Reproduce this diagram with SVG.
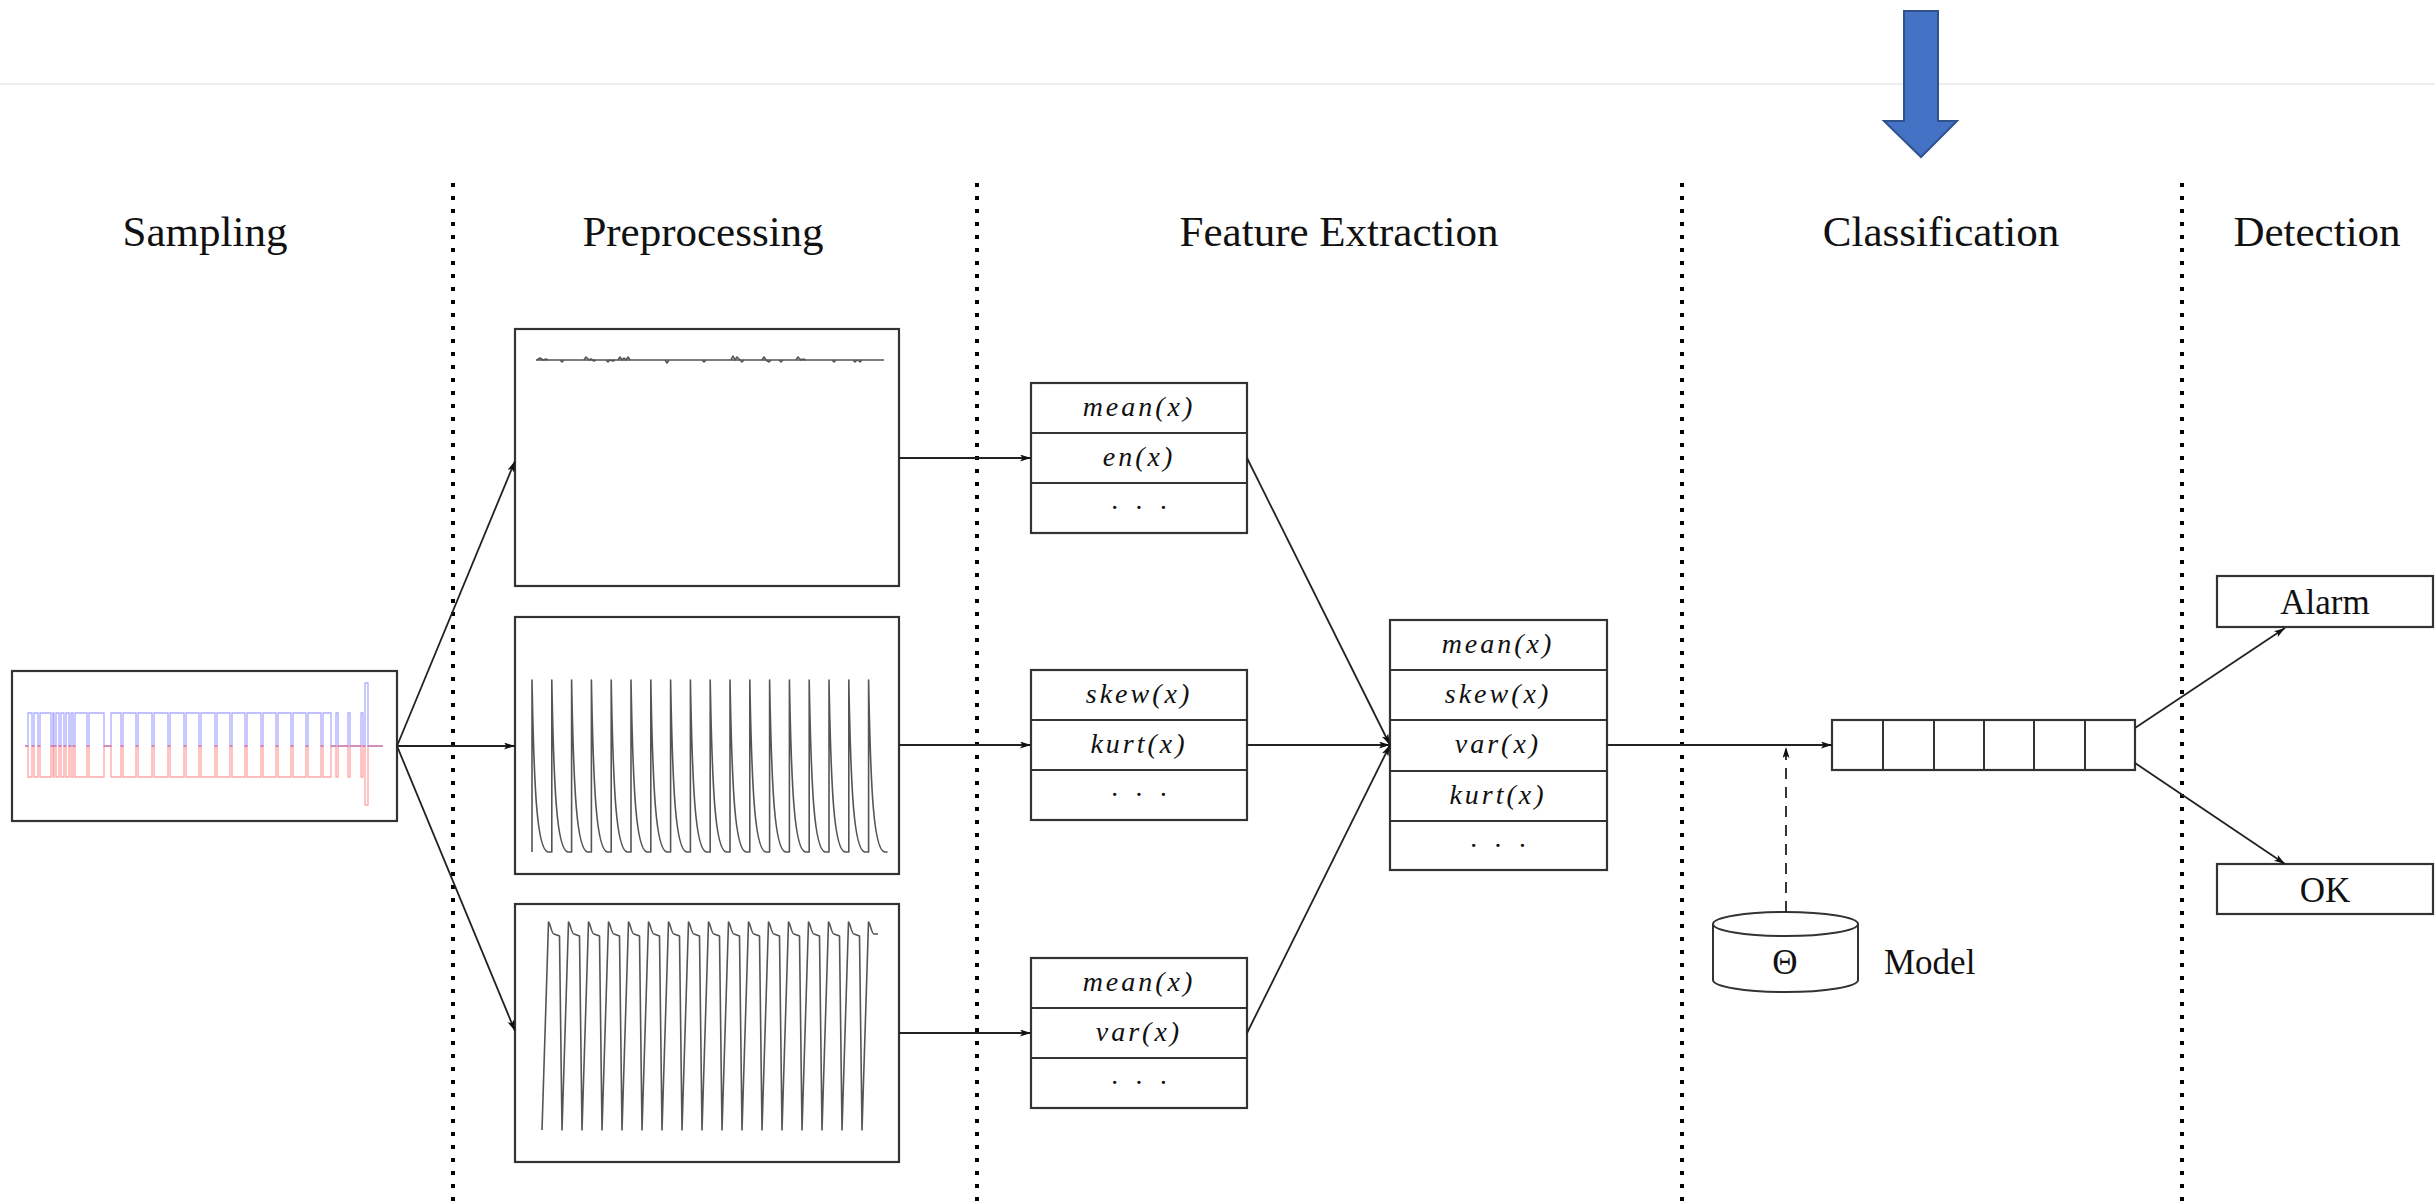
<svg xmlns="http://www.w3.org/2000/svg" width="2435" height="1204" viewBox="0 0 2435 1204">
  <style>
    .title { font-family: "Liberation Serif", "DejaVu Serif", serif; font-size: 43px; fill: #111; text-anchor: middle; }
    .lbl { font-family: "Liberation Serif", "DejaVu Serif", serif; font-size: 35px; fill: #111; text-anchor: middle; }
    .math { font-family: "Liberation Serif", "DejaVu Serif", serif; font-style: italic; font-size: 28px; letter-spacing: 3px; fill: #111; text-anchor: middle; }
    .dots { font-family: "Liberation Serif", "DejaVu Serif", serif; font-size: 28px; letter-spacing: 4px; fill: #111; text-anchor: middle; }
    .box { fill: #fff; stroke: #333; stroke-width: 2.2; }
    .cell { fill: none; stroke: #333; stroke-width: 2; }
    .sep { stroke: #000; stroke-width: 4; stroke-dasharray: 4 9; fill: none; }
    .edge { stroke: #222; stroke-width: 1.8; fill: none; marker-end: url(#tip); }
    .sig { fill: none; stroke: #555; stroke-width: 1.6; stroke-linejoin: round; }
  </style>
  <defs>
    <marker id="tip" markerUnits="userSpaceOnUse" markerWidth="12" markerHeight="8" refX="11" refY="3.5" orient="auto">
      <path d="M0,0 L11,3.5 L0,7 L2.5,3.5 Z" fill="#111"/>
    </marker>
  </defs>

  <rect width="2435" height="1204" fill="#fff"/>
  <line x1="0" y1="84" x2="2435" y2="84" stroke="#e8e8e8" stroke-width="1.5"/>

  <!-- pointer arrow above the classification stage -->
  <g id="pointer">
    <path d="M1904,11 H1938 V121 H1957 L1921,157 L1884,121 H1904 Z" fill="#4472C4" stroke="#2F528F" stroke-width="2"/>
  </g>

  <!-- stage separators -->
  <g id="separators">
    <line class="sep" x1="453" y1="183" x2="453" y2="1204"/>
    <line class="sep" x1="977" y1="183" x2="977" y2="1204"/>
    <line class="sep" x1="1682" y1="183" x2="1682" y2="1204"/>
    <line class="sep" x1="2182" y1="183" x2="2182" y2="1204"/>
  </g>

  <!-- stage titles -->
  <g id="titles">
    <text class="title" x="205" y="246">Sampling</text>
    <text class="title" x="703" y="246">Preprocessing</text>
    <text class="title" x="1339" y="246">Feature Extraction</text>
    <text class="title" x="1941" y="246">Classification</text>
    <text class="title" x="2317" y="246">Detection</text>
  </g>

  <!-- raw sampled signal -->
  <g id="sampling">
    <rect class="box" x="12" y="671" width="385" height="150"/>
    <path fill="none" stroke="#4a4aff" stroke-opacity="0.45" stroke-width="1.3"
      d="M25,746 H28 V713 H32 V746 H34 V713 H38 V746 H40 V713 H51 V746 H53 V713 H54 V746 H56 V713 H59 V746 H61 V713 H64 V746 H66 V713 H69 V746 H71 V713 H73 V746 H75 V713 H87 V746 H89 V713 H104 V746 H111 V713 H121 V746 H123 V713 H136 V746 H138 V713 H152 V746 H154 V713 H168 V746 H170 V713 H184 V746 H186 V713 H199 V746 H201 V713 H215 V746 H217 V713 H230 V746 H232 V713 H245 V746 H247 V713 H261 V746 H263 V713 H276 V746 H278 V713 H291 V746 H293 V713 H306 V746 H308 V713 H321 V746 H323 V713 H331 V746 H336 V713 H338 V746 H348 V713 H350 V746 H361 V713 H363 V746 H365 V683 H368 V746 H383"/>
    <path fill="none" stroke="#ff2020" stroke-opacity="0.4" stroke-width="1.3"
      d="M25,746 H28 V777 H32 V746 H34 V777 H38 V746 H40 V777 H51 V746 H53 V777 H54 V746 H56 V777 H59 V746 H61 V777 H64 V746 H66 V777 H69 V746 H71 V777 H73 V746 H75 V777 H87 V746 H89 V777 H104 V746 H111 V777 H121 V746 H123 V777 H136 V746 H138 V777 H152 V746 H154 V777 H168 V746 H170 V777 H184 V746 H186 V777 H199 V746 H201 V777 H215 V746 H217 V777 H230 V746 H232 V777 H245 V746 H247 V777 H261 V746 H263 V777 H276 V746 H278 V777 H291 V746 H293 V777 H306 V746 H308 V777 H321 V746 H323 V777 H331 V746 H336 V777 H338 V746 H348 V777 H350 V746 H361 V777 H363 V746 H365 V805 H368 V746 H383"/>
  </g>

  <!-- preprocessed channels -->
  <g id="pre-1">
    <rect class="box" x="515" y="329" width="384" height="257"/>
    <path class="sig" d="M536,360 H884"/>
    <path class="sig" stroke-width="1.3" d="M537,360 l3,-2 l3,2 l3,-1 l2,1 M560,360 l2,2 l2,-2 M584,360 l2,-3 l3,3 l2,-1 l3,2 l2,-1 M606,360 l2,2 l2,-2 l3,1 l2,-1 M618,360 l2,-3 l2,3 l2,-2 l2,2 l2,-3 l2,3 M665,360 l2,3 l2,-3 M702,360 l2,2 l2,-2 M731,360 l2,-4 l2,4 l2,-3 l3,3 l2,2 l2,-2 M762,360 l2,-3 l2,3 l3,2 l2,-2 M779,360 l2,2 l2,-2 M796,360 l2,-3 l3,3 l2,-1 l3,1 M832,360 l2,2 l2,-2 M853,360 l2,2 l2,-2 M858,360 l2,2 l2,-2"/>
  </g>
  <g id="pre-2">
    <rect class="box" x="515" y="617" width="384" height="257"/>
    <path class="sig" d="M532,852 V680c2,110 5,170 16,172h3.8 V680c2,110 5,170 16,172h3.8 V680c2,110 5,170 16,172h3.8 V680c2,110 5,170 16,172h3.8 V680c2,110 5,170 16,172h3.8 V680c2,110 5,170 16,172h3.8 V680c2,110 5,170 16,172h3.8 V680c2,110 5,170 16,172h3.8 V680c2,110 5,170 16,172h3.8 V680c2,110 5,170 16,172h3.8 V680c2,110 5,170 16,172h3.8 V680c2,110 5,170 16,172h3.8 V680c2,110 5,170 16,172h3.8 V680c2,110 5,170 16,172h3.8 V680c2,110 5,170 16,172h3.8 V680c2,110 5,170 16,172h3.8 V680c2,110 5,170 16,172h3.8 V680c2,110 5,170 16,172h3"/>
  </g>
  <g id="pre-3">
    <rect class="box" x="515" y="904" width="384" height="258"/>
    <path class="sig" d="M542,1130 l6.5,-208c1.5,0 3,12 5.5,12l5.5,2l2.5,194 l6.5,-208c1.5,0 3,12 5.5,12l5.5,2l2.5,194 l6.5,-208c1.5,0 3,12 5.5,12l5.5,2l2.5,194 l6.5,-208c1.5,0 3,12 5.5,12l5.5,2l2.5,194 l6.5,-208c1.5,0 3,12 5.5,12l5.5,2l2.5,194 l6.5,-208c1.5,0 3,12 5.5,12l5.5,2l2.5,194 l6.5,-208c1.5,0 3,12 5.5,12l5.5,2l2.5,194 l6.5,-208c1.5,0 3,12 5.5,12l5.5,2l2.5,194 l6.5,-208c1.5,0 3,12 5.5,12l5.5,2l2.5,194 l6.5,-208c1.5,0 3,12 5.5,12l5.5,2l2.5,194 l6.5,-208c1.5,0 3,12 5.5,12l5.5,2l2.5,194 l6.5,-208c1.5,0 3,12 5.5,12l5.5,2l2.5,194 l6.5,-208c1.5,0 3,12 5.5,12l5.5,2l2.5,194 l6.5,-208c1.5,0 3,12 5.5,12l5.5,2l2.5,194 l6.5,-208c1.5,0 3,12 5.5,12l5.5,2l2.5,194 l6.5,-208c1.5,0 3,12 5.5,12l5.5,2l2.5,194 l6.5,-208c1.5,0 3,12 5.5,12h4"/>
  </g>

  <!-- per-channel feature tables -->
  <g id="feat-1">
    <rect class="box" x="1031" y="383" width="216" height="150"/>
    <path class="cell" d="M1031,433 H1247 M1031,483 H1247"/>
    <text class="math" x="1139" y="416">mean(x)</text>
    <text class="math" x="1139" y="466">en(x)</text>
    <text class="dots" x="1141" y="517">· · ·</text>
  </g>
  <g id="feat-2">
    <rect class="box" x="1031" y="670" width="216" height="150"/>
    <path class="cell" d="M1031,720 H1247 M1031,770 H1247"/>
    <text class="math" x="1139" y="703">skew(x)</text>
    <text class="math" x="1139" y="753">kurt(x)</text>
    <text class="dots" x="1141" y="804">· · ·</text>
  </g>
  <g id="feat-3">
    <rect class="box" x="1031" y="958" width="216" height="150"/>
    <path class="cell" d="M1031,1008 H1247 M1031,1058 H1247"/>
    <text class="math" x="1139" y="991">mean(x)</text>
    <text class="math" x="1139" y="1041">var(x)</text>
    <text class="dots" x="1141" y="1092">· · ·</text>
  </g>

  <!-- merged feature vector -->
  <g id="feat-all">
    <rect class="box" x="1390" y="620" width="217" height="250"/>
    <path class="cell" d="M1390,670 H1607 M1390,720 H1607 M1390,771 H1607 M1390,821 H1607"/>
    <text class="math" x="1498" y="653">mean(x)</text>
    <text class="math" x="1498" y="703">skew(x)</text>
    <text class="math" x="1498" y="753">var(x)</text>
    <text class="math" x="1498" y="804">kurt(x)</text>
    <text class="dots" x="1500" y="855">· · ·</text>
  </g>

  <!-- classifier output array -->
  <g id="classifier">
    <rect class="box" x="1832" y="720" width="303" height="50"/>
    <path class="cell" d="M1883,720 V770 M1934,720 V770 M1984,720 V770 M2034,720 V770 M2085,720 V770"/>
  </g>

  <!-- model store -->
  <g id="model">
    <path d="M1713,924 V980 A72.5,12 0 0 0 1858,980 V924" fill="#fff" stroke="#333" stroke-width="2"/>
    <ellipse cx="1785.5" cy="924" rx="72.5" ry="12" fill="#fff" stroke="#333" stroke-width="2"/>
    <text class="lbl" x="1785" y="974">Θ</text>
    <text class="lbl" x="1884" y="974" style="text-anchor:start">Model</text>
  </g>

  <!-- detection outcomes -->
  <g id="alarm">
    <rect class="box" x="2217" y="576" width="216" height="51"/>
    <text class="lbl" x="2325" y="614">Alarm</text>
  </g>
  <g id="ok">
    <rect class="box" x="2217" y="864" width="216" height="50"/>
    <text class="lbl" x="2325" y="902">OK</text>
  </g>

  <!-- connectors -->
  <g id="connectors">
    <line class="edge" x1="397" y1="746" x2="515" y2="461"/>
    <line class="edge" x1="397" y1="746" x2="515" y2="746"/>
    <line class="edge" x1="397" y1="746" x2="515" y2="1031"/>
    <line class="edge" x1="899" y1="458" x2="1031" y2="458"/>
    <line class="edge" x1="899" y1="745" x2="1031" y2="745"/>
    <line class="edge" x1="899" y1="1033" x2="1031" y2="1033"/>
    <line class="edge" x1="1247" y1="458" x2="1390" y2="745"/>
    <line class="edge" x1="1247" y1="745" x2="1390" y2="745"/>
    <line class="edge" x1="1247" y1="1033" x2="1390" y2="745"/>
    <line class="edge" x1="1607" y1="745" x2="1832" y2="745"/>
    <line class="edge" x1="1786" y1="912" x2="1786" y2="747" stroke-dasharray="11 8"/>
    <line class="edge" x1="2135" y1="728" x2="2285" y2="628"/>
    <line class="edge" x1="2135" y1="763" x2="2285" y2="864"/>
  </g>
</svg>
